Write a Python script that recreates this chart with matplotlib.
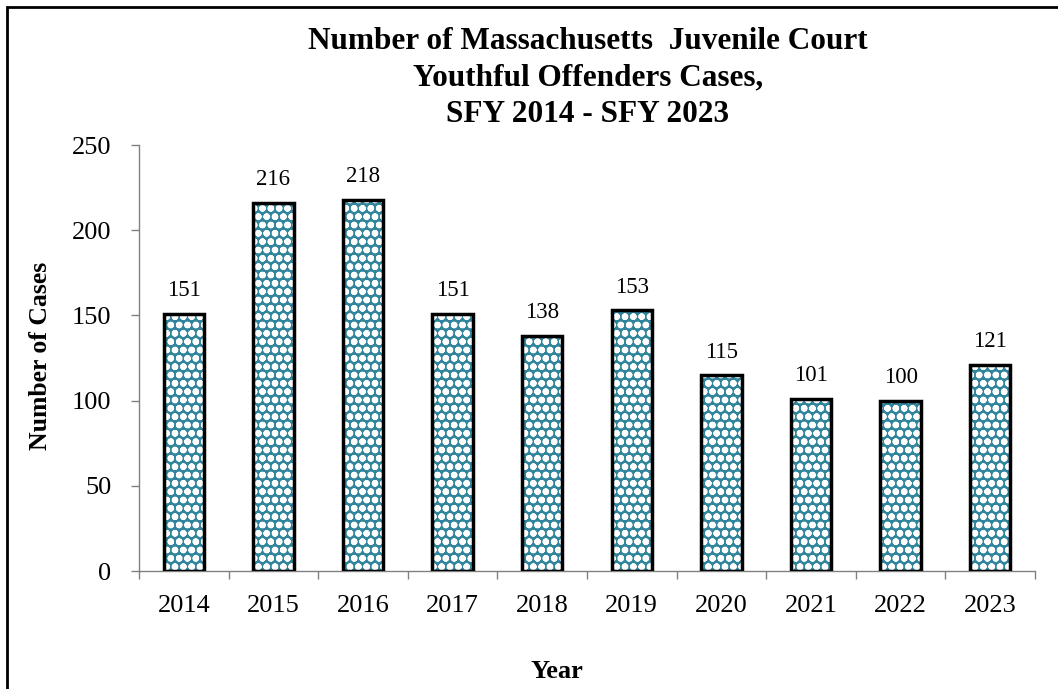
import matplotlib.pyplot as plt
from matplotlib.patches import Rectangle
import numpy as np

# Data
years = ['2014', '2015', '2016', '2017', '2018', '2019', '2020', '2021', '2022', '2023']
cases = [151, 216, 218, 151, 138, 153, 115, 101, 100, 121]

teal = '#31859C'
plt.rcParams['font.family'] = ['Liberation Serif', 'DejaVu Serif']
plt.rcParams['hatch.linewidth'] = 2.3

fig = plt.figure(figsize=(10.58, 6.89), dpi=100)
ax = fig.add_axes([139 / 1058, 1 - 571 / 689, (1035 - 139) / 1058, (571 - 145) / 689])

x = np.arange(len(years))
# patterned fill (white hatch on teal) then black outline on top
ax.bar(x, cases, width=0.45, color=teal, edgecolor='white', hatch='oo', linewidth=0, zorder=2)
ax.bar(x, cases, width=0.45, fill=False, edgecolor='black', linewidth=2.5, zorder=3)

for xi, v in zip(x, cases):
    ax.annotate(str(v), (xi, v), xytext=(0, 9), textcoords='offset points',
                ha='center', va='bottom', fontsize=16.5)

ax.set_xlim(-0.5, len(years) - 0.5)
ax.set_ylim(0, 250)
ax.set_yticks(range(0, 251, 50))
ax.set_xticks(x)
ax.set_xticklabels(years)
ax.set_xticks(np.arange(-0.5, len(years), 1), minor=True)
ax.tick_params(axis='x', which='major', length=0, pad=17, labelsize=19)
ax.tick_params(axis='x', which='minor', length=6, width=1, color='#808080', direction='out')
ax.tick_params(axis='y', length=6, width=1, color='#808080', direction='out', pad=14, labelsize=19)

for s in ['top', 'right']:
    ax.spines[s].set_visible(False)
for s in ['left', 'bottom']:
    ax.spines[s].set_color('#808080')
    ax.spines[s].set_linewidth(1)

fig.text(588 / 1058, 1 - 78 / 689,
         'Number of Massachusetts  Juvenile Court\nYouthful Offenders Cases,\nSFY 2014 - SFY 2023',
         ha='center', va='center', fontsize=22.5, fontweight='bold', linespacing=1.33)
fig.text(41 / 1058, 1 - 356 / 689, 'Number of Cases', rotation=90, ha='center', va='center',
         fontsize=18.5, fontweight='bold')
fig.text(557 / 1058, 1 - 671 / 689, 'Year', ha='center', va='center', fontsize=19, fontweight='bold')

# outer chart border (partly outside the image like the reference)
fig.patches.append(Rectangle((7 / 1058, -0.2), 1.2, 1.2 - 7 / 689, transform=fig.transFigure,
                             fill=False, edgecolor='black', linewidth=2))

fig.savefig('out.png', dpi=100)
